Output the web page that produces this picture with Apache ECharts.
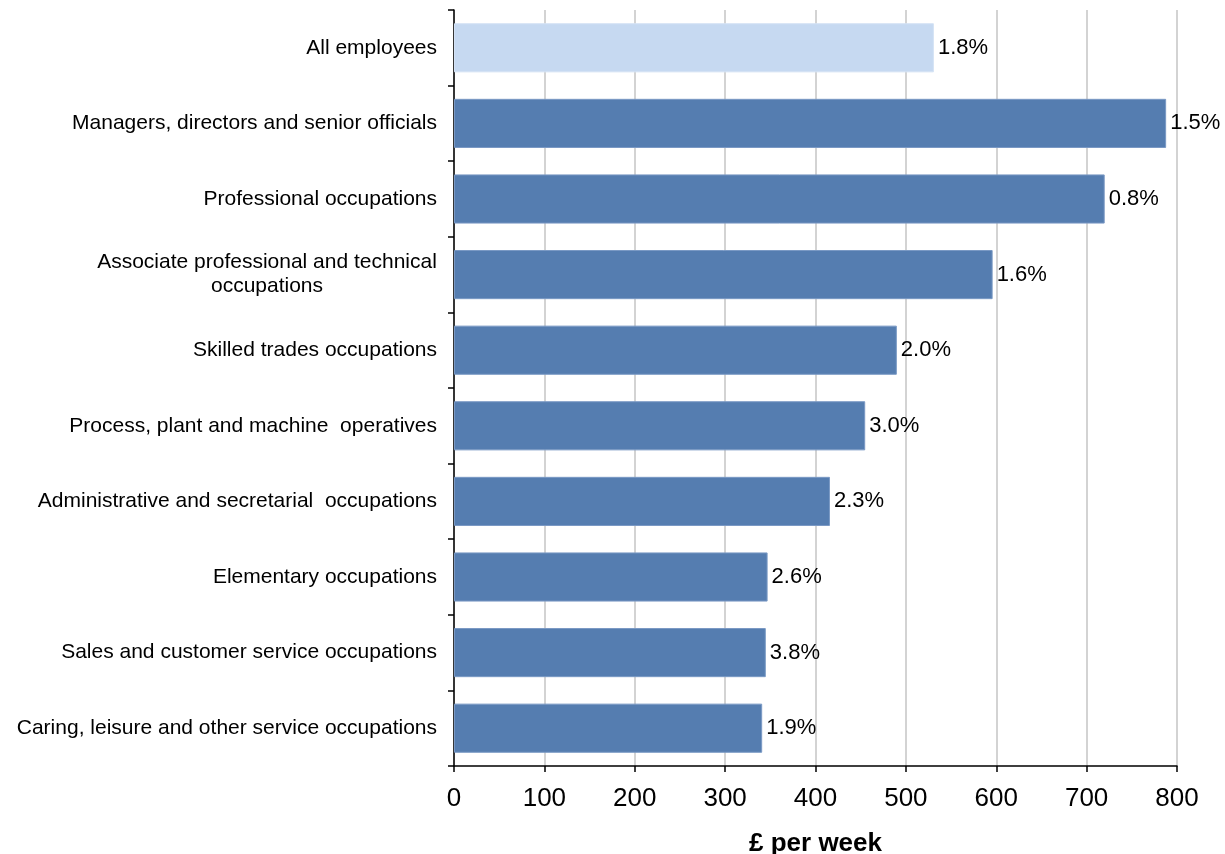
<!DOCTYPE html>
<html>
<head>
<meta charset="utf-8">
<script src="https://cdn.jsdelivr.net/npm/echarts@6/dist/echarts.min.js"></script>
<style>
  html, body { margin: 0; padding: 0; background: #ffffff; }
  #chart { width: 1225px; height: 854px; }
</style>
</head>
<body>
<div id="chart"></div>
<script>
// Median gross weekly earnings by occupation, with annual growth
const categories = [
  'All employees',
  'Managers, directors and senior officials',
  'Professional occupations',
  'Associate professional and technical\noccupations',
  'Skilled trades occupations',
  'Process, plant and machine  operatives',
  'Administrative and secretarial  occupations',
  'Elementary occupations',
  'Sales and customer service occupations',
  'Caring, leisure and other service occupations'
];
const weeklyPay = [531, 788, 720, 596, 490, 455, 416, 347, 345, 341];
const growth = ['1.8%', '1.5%', '0.8%', '1.6%', '2.0%', '3.0%', '2.3%', '2.6%', '3.8%', '1.9%'];
const xTicks = [0, 100, 200, 300, 400, 500, 600, 700, 800];

const FONT = '"Liberation Sans", Arial, sans-serif';
const CAT_SIZE = 21;

// width of the widest line of the wrapped label, so both lines centre under each other
const ctx = document.createElement('canvas').getContext('2d');
ctx.font = CAT_SIZE + 'px ' + FONT;
const wrapWidth = Math.ceil(ctx.measureText('Associate professional and technical').width);

const chart = echarts.init(document.getElementById('chart'), null, { renderer: 'canvas' });

chart.setOption({
  animation: false,
  backgroundColor: '#ffffff',
  grid: { left: 454, right: 48, top: 10, bottom: 88, containLabel: false, outerBoundsMode: 'none' },
  xAxis: {
    type: 'value',
    min: xTicks[0],
    max: xTicks[xTicks.length - 1],
    interval: 100,
    name: '£ per week',
    nameLocation: 'middle',
    nameGap: 65,
    nameTextStyle: { fontFamily: FONT, fontSize: 26, fontWeight: 'bold', color: '#000' },
    axisLine: { show: true, lineStyle: { color: '#000', width: 1.5 } },
    axisTick: { show: true, length: 6, lineStyle: { color: '#000', width: 1.5 } },
    axisLabel: { margin: 20, fontFamily: FONT, fontSize: 26, color: '#000' },
    splitLine: { show: true, lineStyle: { color: '#c4c4c4', width: 1.5 } }
  },
  yAxis: {
    type: 'category',
    inverse: true,
    data: categories,
    axisLine: { show: true, lineStyle: { color: '#000', width: 1.5 } },
    axisTick: { show: true, length: 6, lineStyle: { color: '#000', width: 1.5 } },
    axisLabel: {
      margin: 17,
      color: '#000',
      fontFamily: FONT,
      fontSize: CAT_SIZE,
      formatter: function (v) {
        if (v.indexOf('\n') >= 0) {
          return v.split('\n').map(function (s) { return '{w|' + s + '}'; }).join('\n');
        }
        return v;
      },
      rich: {
        w: { width: wrapWidth, align: 'center', fontSize: CAT_SIZE, lineHeight: 24, color: '#000', fontFamily: FONT }
      }
    },
    splitLine: { show: false }
  },
  series: [{
    type: 'bar',
    data: weeklyPay.map(function (v, i) {
      return {
        value: v,
        itemStyle: i === 0
          ? { color: '#c6d9f1', borderColor: '#d4e2f4', borderWidth: 1 }
          : { color: '#557db0', borderColor: '#7a99c4', borderWidth: 1 }
      };
    }),
    barCategoryGap: '35%',
    label: {
      show: true,
      position: 'right',
      distance: 4,
      color: '#000',
      fontFamily: FONT,
      fontSize: 22,
      formatter: function (p) { return growth[p.dataIndex]; }
    }
  }]
});
</script>
</body>
</html>
